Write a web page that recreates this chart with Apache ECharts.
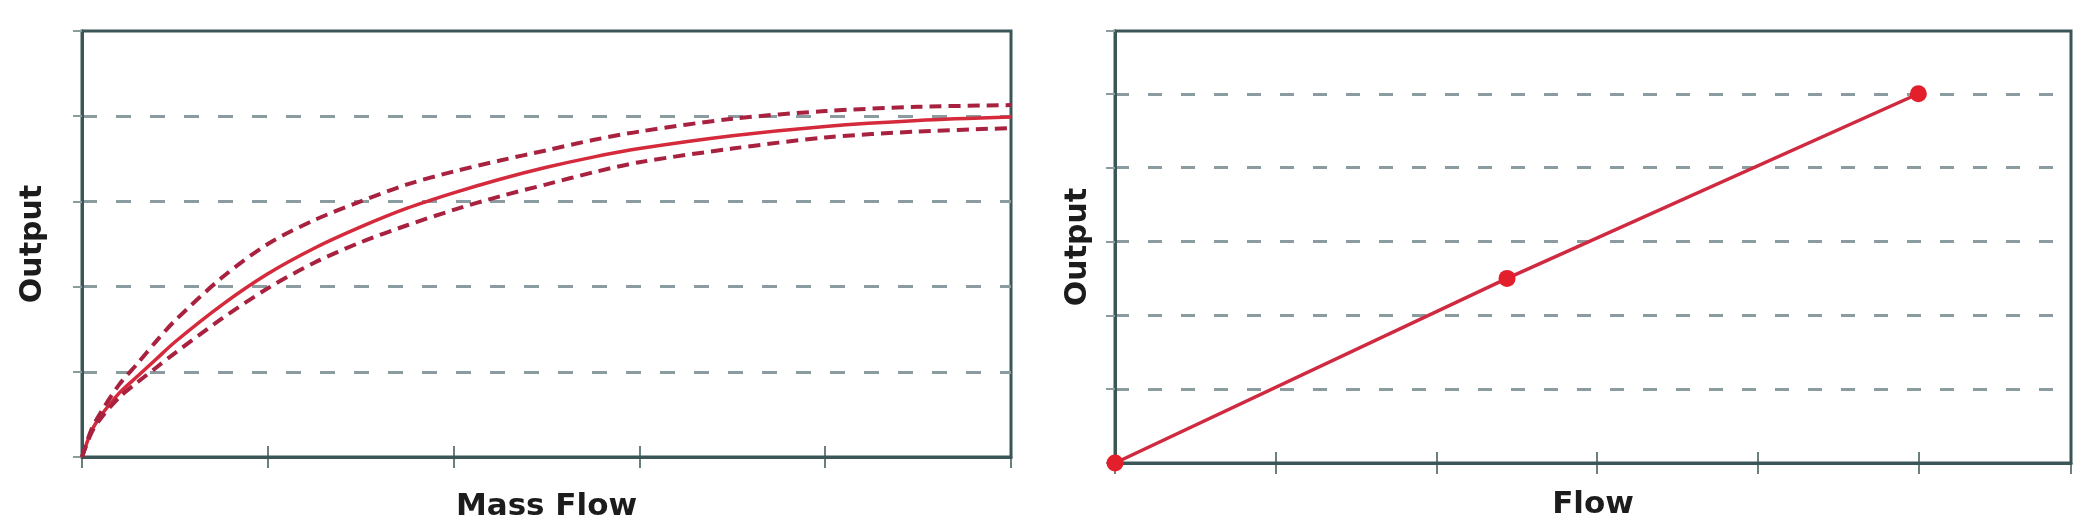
<!DOCTYPE html>
<html>
<head>
<meta charset="utf-8">
<script src="https://cdn.jsdelivr.net/npm/echarts@6/dist/echarts.min.js"></script>
<style>
    html, body {margin: 0; padding: 0; background: #fff;}
    #mychart {width: 2095px; height: 530px;}
</style>
</head>
<body>
<div id="mychart"></div>
<script>
    // left chart: output vs mass flow (nominal curve + upper/lower band)
    var massFlow = [0, 0.05, 0.1, 0.2, 0.3, 0.4, 0.5, 0.75, 1, 1.25, 1.5, 1.75, 2, 2.25, 2.5, 2.75, 3, 3.5, 4, 4.5, 5]
    var outputNominal = [0, 0.3, 0.48, 0.75, 0.95, 1.15, 1.35, 1.78, 2.15, 2.45, 2.7, 2.92, 3.1, 3.26, 3.4, 3.52, 3.62, 3.77, 3.88, 3.95, 3.99]
    var outputUpper = [0, 0.32, 0.52, 0.85, 1.1, 1.36, 1.6, 2.1, 2.5, 2.78, 3.0, 3.2, 3.35, 3.48, 3.6, 3.72, 3.82, 3.97, 4.06, 4.11, 4.13]
    var outputLower = [0, 0.28, 0.45, 0.7, 0.88, 1.05, 1.22, 1.62, 1.98, 2.28, 2.52, 2.72, 2.9, 3.06, 3.2, 3.34, 3.46, 3.62, 3.75, 3.82, 3.86]

    // right chart: output vs flow (linear)
    var flow = [0, 2.44, 5]
    var outputLinear = [0, 2.5, 5]

    var axisColor = '#3b5656'
    var gridColor = '#8a9ca0'
    var font = 'DejaVu Sans'

    function pairs(xs, ys) {
        var out = []
        for (var i = 0; i < xs.length; i++) {
            out.push([xs[i], ys[i]])
        }
        return out
    }

    function xAxisMain(gridIndex, max, name, gap) {
        return {
            type: 'value',
            gridIndex: gridIndex,
            position: 'bottom',
            min: 0,
            max: max,
            interval: 1,
            name: name,
            nameLocation: 'middle',
            nameGap: gap,
            nameTextStyle: {fontFamily: font, fontWeight: 'bold', fontSize: 31, color: '#1c1c1c'},
            axisLine: {lineStyle: {color: axisColor, width: 3}},
            axisTick: {show: true, inside: false, length: 11, lineStyle: {color: axisColor, width: 1.5}},
            axisLabel: {show: false},
            splitLine: {show: false}
        }
    }

    function xAxisInner(gridIndex, max) {
        return {
            type: 'value',
            gridIndex: gridIndex,
            position: 'bottom',
            min: 0,
            max: max,
            interval: 1,
            axisLine: {show: false},
            axisTick: {show: true, inside: true, length: 11, lineStyle: {color: axisColor, width: 1.5}},
            axisLabel: {show: false},
            splitLine: {show: false}
        }
    }

    function yAxis(gridIndex, max, gap, dash) {
        return {
            type: 'value',
            gridIndex: gridIndex,
            min: 0,
            max: max,
            interval: 1,
            name: 'Output',
            nameLocation: 'middle',
            nameGap: gap,
            nameTextStyle: {fontFamily: font, fontWeight: 'bold', fontSize: 30, color: '#1c1c1c'},
            axisLine: {lineStyle: {color: axisColor, width: 3}},
            axisTick: {show: true, length: 9, lineStyle: {color: '#8c9b9e', width: 2}},
            axisLabel: {show: false},
            splitLine: {
                show: true,
                showMinLine: false,
                showMaxLine: false,
                lineStyle: {color: gridColor, width: 3, type: dash}
            }
        }
    }

    var myChart = echarts.init(document.getElementById('mychart'))
    var option = {
        backgroundColor: '#fff',
        animation: false,
        grid: [
            {left: 82, right: 1084, top: 31, bottom: 73, show: true, borderColor: axisColor, borderWidth: 3},
            {left: 1115, right: 24, top: 31, bottom: 67, show: true, borderColor: axisColor, borderWidth: 3}
        ],
        xAxis: [
            xAxisMain(0, 5, 'Mass Flow', 34),
            xAxisInner(0, 5),
            xAxisMain(1, 5.95, 'Flow', 26),
            xAxisInner(1, 5.95)
        ],
        yAxis: [
            yAxis(0, 5, 34, [15, 19]),
            yAxis(1, 5.85, 22, [14, 19])
        ],
        series: [
            {
                name: 'nominal',
                type: 'line',
                xAxisIndex: 0,
                yAxisIndex: 0,
                smooth: 0.3,
                symbol: 'none',
                lineStyle: {color: '#d42a3c', width: 3.5},
                data: pairs(massFlow, outputNominal)
            },
            {
                name: 'upper',
                type: 'line',
                xAxisIndex: 0,
                yAxisIndex: 0,
                smooth: 0.3,
                symbol: 'none',
                lineStyle: {color: '#a8213f', width: 4, type: [12, 7]},
                data: pairs(massFlow, outputUpper)
            },
            {
                name: 'lower',
                type: 'line',
                xAxisIndex: 0,
                yAxisIndex: 0,
                smooth: 0.3,
                symbol: 'none',
                lineStyle: {color: '#a8213f', width: 4, type: [12, 7]},
                data: pairs(massFlow, outputLower)
            },
            {
                name: 'linear',
                type: 'line',
                xAxisIndex: 2,
                yAxisIndex: 1,
                symbol: 'circle',
                symbolSize: 17,
                itemStyle: {color: '#e21f2b'},
                lineStyle: {color: '#cf2a40', width: 3.5},
                data: pairs(flow, outputLinear)
            }
        ]
    }
    myChart.setOption(option)
</script>
</body>
</html>
